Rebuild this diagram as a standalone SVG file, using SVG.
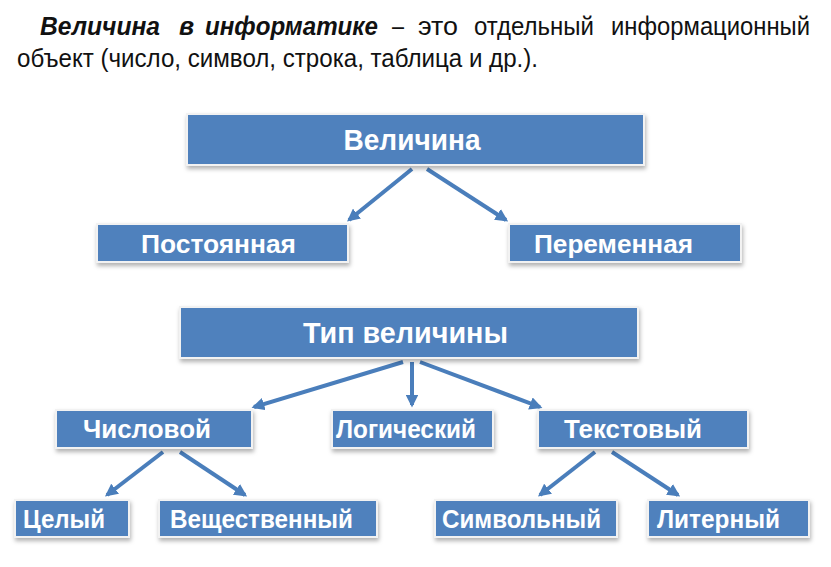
<svg xmlns="http://www.w3.org/2000/svg" width="831" height="567" viewBox="0 0 831 567">
<defs>
<style>
.box{fill:#4f81bd;stroke:#f2f2f2;stroke-width:2;filter:url(#sh)}
.lbl{font-family:"Liberation Sans",Arial,sans-serif;font-weight:bold;fill:#ffffff;text-anchor:middle}
.big{font-size:29px}
.sm{font-size:26px}
.hd{font-family:"Liberation Sans",Arial,sans-serif;font-size:25px;fill:#111111}
.bi{font-weight:bold;font-style:italic}
.arr{stroke:#4a7ebb;stroke-width:4;fill:none;marker-end:url(#ah)}
</style>
<filter id="sh" x="-10%" y="-20%" width="120%" height="150%">
<feDropShadow dx="1" dy="3" stdDeviation="2" flood-color="#000" flood-opacity="0.3"/>
</filter>
<marker id="ah" viewBox="0 0 10 10" refX="8" refY="5" markerWidth="3.2" markerHeight="3.2" orient="auto" markerUnits="strokeWidth">
<path d="M0,0 L10,5 L0,10 z" fill="#4a7ebb"/>
</marker>
</defs>
<rect width="831" height="567" fill="#ffffff"/>
<g id="header">
<text class="hd bi" x="40" y="35" textLength="120" lengthAdjust="spacingAndGlyphs">Величина</text>
<text class="hd bi" x="179" y="35">в</text>
<text class="hd bi" x="205" y="35" textLength="173" lengthAdjust="spacingAndGlyphs">информатике</text>
<text class="hd" x="392" y="35" textLength="12" lengthAdjust="spacingAndGlyphs">–</text>
<text class="hd" x="418" y="35" textLength="40" lengthAdjust="spacingAndGlyphs">это</text>
<text class="hd" x="474" y="35" textLength="120" lengthAdjust="spacingAndGlyphs">отдельный</text>
<text class="hd" x="611" y="35" textLength="199" lengthAdjust="spacingAndGlyphs">информационный</text>
<text class="hd" x="17" y="67" textLength="521" lengthAdjust="spacingAndGlyphs">объект (число, символ, строка, таблица и др.).</text>
</g>
<g id="connectors">
<line class="arr" x1="412" y1="169" x2="349" y2="220"/>
<line class="arr" x1="427" y1="169" x2="506" y2="220"/>
<line class="arr" x1="403" y1="362" x2="254" y2="407"/>
<line class="arr" x1="412" y1="362" x2="412" y2="405"/>
<line class="arr" x1="420" y1="362" x2="540" y2="407"/>
<line class="arr" x1="163" y1="452" x2="107" y2="495"/>
<line class="arr" x1="180" y1="452" x2="245" y2="495"/>
<line class="arr" x1="595" y1="452" x2="540" y2="495"/>
<line class="arr" x1="612" y1="452" x2="678" y2="495"/>
</g>
<g id="n-velichina"><rect class="box" x="187" y="114" width="457" height="51"/><text class="lbl big" x="412" y="150" textLength="137" lengthAdjust="spacingAndGlyphs">Величина</text></g>
<g id="n-postoyannaya"><rect class="box" x="97" y="224" width="251" height="38"/><text class="lbl sm" x="218.5" y="253" textLength="155" lengthAdjust="spacingAndGlyphs">Постоянная</text></g>
<g id="n-peremennaya"><rect class="box" x="509" y="224" width="232" height="38"/><text class="lbl sm" x="613.5" y="253" textLength="159" lengthAdjust="spacingAndGlyphs">Переменная</text></g>
<g id="n-tip"><rect class="box" x="180" y="307" width="458" height="51"/><text class="lbl big" x="405.5" y="343" textLength="205" lengthAdjust="spacingAndGlyphs">Тип величины</text></g>
<g id="n-chislovoy"><rect class="box" x="56" y="410" width="196" height="38"/><text class="lbl sm" x="147" y="438" textLength="128" lengthAdjust="spacingAndGlyphs">Числовой</text></g>
<g id="n-logicheskiy"><rect class="box" x="332" y="410" width="161" height="38"/><text class="lbl sm" x="406" y="438" textLength="140" lengthAdjust="spacingAndGlyphs">Логический</text></g>
<g id="n-tekstovyy"><rect class="box" x="538" y="410" width="210" height="38"/><text class="lbl sm" x="633" y="438" textLength="138" lengthAdjust="spacingAndGlyphs">Текстовый</text></g>
<g id="n-tselyy"><rect class="box" x="15" y="500" width="114" height="37"/><text class="lbl sm" x="64" y="528" textLength="82" lengthAdjust="spacingAndGlyphs">Целый</text></g>
<g id="n-veshchestvennyy"><rect class="box" x="159" y="500" width="218" height="37"/><text class="lbl sm" x="261.5" y="528" textLength="183" lengthAdjust="spacingAndGlyphs">Вещественный</text></g>
<g id="n-simvolnyy"><rect class="box" x="435" y="500" width="182" height="37"/><text class="lbl sm" x="521.5" y="528" textLength="159" lengthAdjust="spacingAndGlyphs">Символьный</text></g>
<g id="n-liternyy"><rect class="box" x="648" y="500" width="161" height="37"/><text class="lbl sm" x="718.5" y="528" textLength="123" lengthAdjust="spacingAndGlyphs">Литерный</text></g>
</svg>
